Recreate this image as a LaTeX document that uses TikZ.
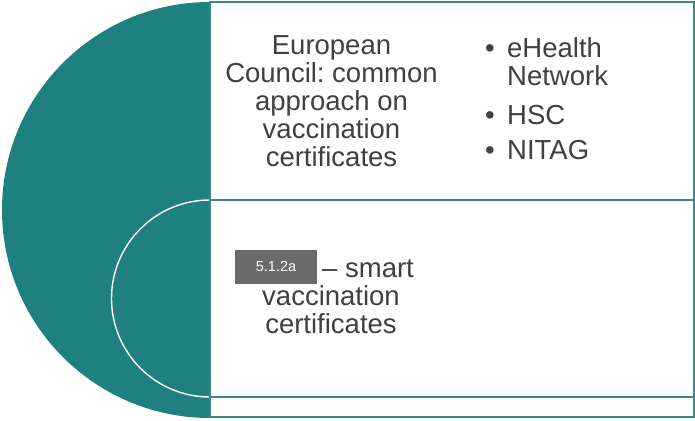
\documentclass[tikz,border=0pt]{standalone}
\usepackage{fontspec}
\setmainfont{Liberation Sans}
\usetikzlibrary{positioning}
\frenchspacing
\definecolor{tealdisc}{RGB}{31,128,128}
\definecolor{tealline}{RGB}{62,136,136}
\definecolor{textgrey}{RGB}{64,64,64}
\definecolor{taggrey}{RGB}{107,107,107}
\tikzstyle{panel} = [rectangle, minimum width=484pt, minimum height=198pt, outer sep=0pt, draw=tealline, line width=1.2pt, fill=white]
\tikzstyle{bodytext} = [inner sep=0pt, text=textgrey, font=\fontsize{27.5}{28}\selectfont, align=center]
\tikzstyle{tagbox} = [rectangle, minimum width=82pt, minimum height=34pt, inner sep=0pt, fill=taggrey, text=white, font=\fontsize{14.5}{16}\selectfont]

\begin{document}
\begin{tikzpicture}[x=1pt, y=-1pt]
\useasboundingbox (0,0) rectangle (695,420);
% Define discs
\fill[tealdisc] (210,2) arc[start angle=90, end angle=270, radius=208pt] -- cycle;
\draw[white, line width=1.4pt] (210,200) arc[start angle=90, end angle=270, radius=98.5pt];
% Define panels
\node (frame) [panel, minimum height=415pt] at (452,209.5) {};
\node (toppanel) [panel] at (452,101) {};
\node (bottompanel) [panel, minimum height=197pt, below=0pt of toppanel] {};
% Define texts
\node (council) [bodytext] at (331.5,101.2) {European\\Council: common\\approach on\\vaccination\\certificates};
\node (bodies) [bodytext, align=left, anchor=north west] at (485,37.3) {\makebox[22pt][l]{•}eHealth\\\hspace*{22pt}Network\\[11pt]\makebox[22pt][l]{•}HSC\\[7pt]\makebox[22pt][l]{•}NITAG};
\node (tag) [tagbox] at (276,267) {5.1.2a};
\node (smart) [bodytext, anchor=base west] at (322,277) {-- smart};
\node (certs) [bodytext] at (331,309.7) {vaccination\\certificates};
\end{tikzpicture}
\end{document}
